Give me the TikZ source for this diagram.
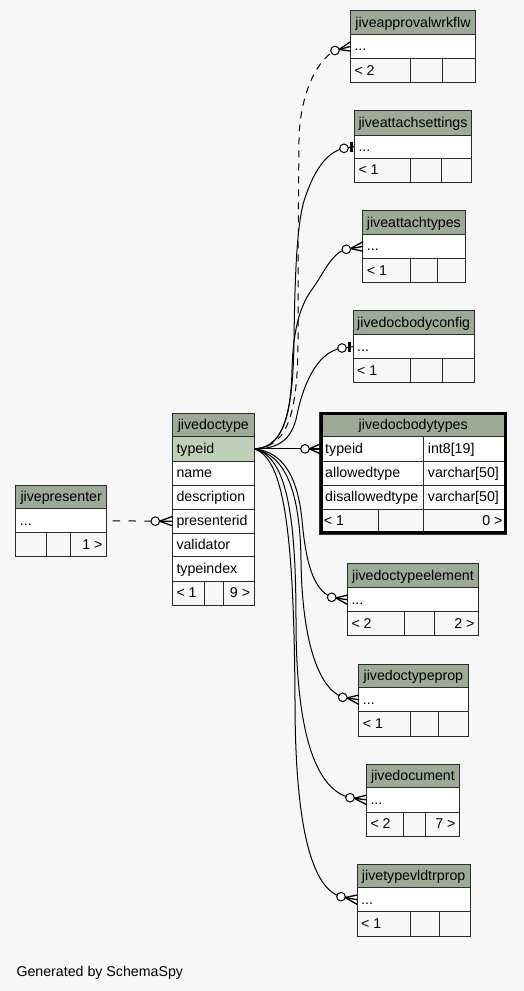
\documentclass[tikz,border=0pt]{standalone}
\usepackage{fontspec}
\setmainfont{Liberation Sans}
\usetikzlibrary{fit,calc}
\definecolor{hdrc}{HTML}{9BAB96}
\definecolor{pkc}{HTML}{BED1B8}
\definecolor{bgc}{HTML}{F7F7F7}
\definecolor{bordc}{HTML}{2B2B2B}
\newcommand\tabfont{\fontsize{14.2pt}{17pt}\selectfont}
\tikzset{
 cellbox/.style={draw=bordc, line width=0.9pt, inner sep=0pt, outer sep=0pt},
 celltxt/.style={font=\tabfont, inner sep=0pt, outer sep=0pt, text=black},
 conn/.style={draw=black, line width=1pt},
 crowarm/.style={draw=black, line width=1.3pt, line cap=round},
 dashln/.style={dash pattern=on 7pt off 6pt},
}
\newcommand\tbox[6]{\node[cellbox, fill=#6, fit={(#2,#3)(#4,#5)}] (#1) {};}
\newcommand\ltext[4]{\node[celltxt, anchor=base west] (#1) at (#2+4.2,#3+16.5) {#4};}
\newcommand\rtext[4]{\node[celltxt, anchor=base east] (#1) at (#2-4.2,#3+16.5) {#4};}
\newcommand\ctext[5]{\node[celltxt, anchor=base] (#1) at ({(#2+#3)/2},#4+16.5) {#5};}
% prefix, title, L, R, y0, y1, y2, y3
\newcommand\stdtable[8]{%
 \tbox{#1-h}{#3}{#5}{#4}{#6}{hdrc}
 \ctext{#1-ht}{#3}{#4}{#5}{#2}
 \tbox{#1-r}{#3}{#6}{#4}{#7}{white}
 \ltext{#1-rt}{#3}{#6}{...}
}
% prefix, L, d1, d2, R, ytop, ybot, left text, right text
\newcommand\stdfoot[9]{%
 \tbox{#1-f1}{#2}{#6}{#3}{#7}{bgc}
 \tbox{#1-f2}{#3}{#6}{#4}{#7}{bgc}
 \tbox{#1-f3}{#4}{#6}{#5}{#7}{bgc}
 \ltext{#1-fl}{#2}{#6}{#8}
 \rtext{#1-fr}{#5}{#6}{#9}
}
\newcommand\crowmark[2]{%
  \draw[crowarm] (#1) -- (#2);
  \draw[crowarm] ($(#1)!4.2pt!(#2)$) -- ($(#2)+(0,-4.6)$);
  \draw[crowarm] ($(#1)!4.2pt!(#2)$) -- ($(#2)+(0,4.6)$);
  \draw[conn, fill=white] (#1) circle[radius=4.3pt];
}
\newcommand\barmark[2]{%
  \draw[conn] (#1) -- (#2);
  \draw[black, line width=3pt] ($(#2)+(-3.2,-5)$) -- ($(#2)+(-3.2,5)$);
  \draw[conn, fill=white] (#1) circle[radius=4.3pt];
}
\begin{document}
\begin{tikzpicture}[x=1pt,y=-1pt]
\fill[bgc] (0,0) rectangle (524,991);
\useasboundingbox (0,0) rectangle (524,991);

% small tables
\stdtable{appr}{jiveapprovalwrkflw}{350.3}{475.7}{10.7}{34.3}{58.7}{82.3}
\stdfoot{appr}{350.3}{410.3}{442.3}{475.7}{58.7}{82.3}{< 2}{}
\stdtable{atts}{jiveattachsettings}{354.3}{471.7}{110.7}{135}{158.3}{182.3}
\stdfoot{atts}{354.3}{410.3}{441}{471.7}{158.3}{182.3}{< 1}{}
\stdtable{attt}{jiveattachtypes}{362.7}{465}{210.7}{234.3}{258.7}{282.3}
\stdfoot{attt}{362.7}{410.3}{437.3}{465}{258.7}{282.3}{< 1}{}
\stdtable{dbc}{jivedocbodyconfig}{353}{474.3}{310.7}{334.7}{358.7}{382.3}
\stdfoot{dbc}{353}{410.3}{442.7}{474.3}{358.7}{382.3}{< 1}{}
\stdtable{dte}{jivedoctypeelement}{347.3}{478.7}{563.7}{587.7}{611.7}{635.7}
\stdfoot{dte}{347.3}{404}{434.7}{478.7}{611.7}{635.7}{< 2}{2 >}
\stdtable{dtp}{jivedoctypeprop}{358.7}{468}{664}{687.7}{711.7}{736}
\stdfoot{dtp}{358.7}{410.3}{438.7}{468}{711.7}{736}{< 1}{}
\stdtable{doc}{jivedocument}{366.3}{459.7}{764}{787.7}{812}{836}
\stdfoot{doc}{366.3}{403.7}{425}{459.7}{812}{836}{< 2}{7 >}
\stdtable{tvp}{jivetypevldtrprop}{357}{470.3}{864}{887.7}{911.7}{936}
\stdfoot{tvp}{357}{410.3}{439.7}{470.3}{911.7}{936}{< 1}{}
\stdtable{pres}{jivepresenter}{15.7}{106.7}{485}{508.7}{532.7}{556.7}
\stdfoot{pres}{15.7}{46.3}{70.7}{106.7}{532.7}{556.7}{}{1 >}

% jivedoctype
\tbox{jdt-h}{172.3}{413.3}{254.3}{436.7}{hdrc}
\ctext{jdt-ht}{172.3}{254.3}{413.3}{jivedoctype}
\tbox{jdt-r1}{172.3}{436.7}{254.3}{461}{pkc}
\ltext{jdt-t1}{172.3}{436.7}{typeid}
\tbox{jdt-r2}{172.3}{461}{254.3}{485}{white}
\ltext{jdt-t2}{172.3}{461}{name}
\tbox{jdt-r3}{172.3}{485}{254.3}{509}{white}
\ltext{jdt-t3}{172.3}{485}{description}
\tbox{jdt-r4}{172.3}{509}{254.3}{533.3}{white}
\ltext{jdt-t4}{172.3}{509}{presenterid}
\tbox{jdt-r5}{172.3}{533.3}{254.3}{556.7}{white}
\ltext{jdt-t5}{172.3}{533.3}{validator}
\tbox{jdt-r6}{172.3}{556.7}{254.3}{581}{white}
\ltext{jdt-t6}{172.3}{556.7}{typeindex}
\stdfoot{jdt}{172.3}{204.7}{223}{254.3}{581}{605}{< 1}{9 >}

% jivedocbodytypes
\tbox{dbt-h}{319.7}{412}{506.7}{436.7}{hdrc}
\ctext{dbt-ht}{319.7}{506.7}{413}{jivedocbodytypes}
\tbox{dbt-r1}{319.7}{436.7}{423.7}{461}{white}
\tbox{dbt-s1}{423.7}{436.7}{506.7}{461}{white}
\tbox{dbt-r2}{319.7}{461}{423.7}{485}{white}
\tbox{dbt-s2}{423.7}{461}{506.7}{485}{white}
\tbox{dbt-r3}{319.7}{485}{423.7}{509}{white}
\tbox{dbt-s3}{423.7}{485}{506.7}{509}{white}
\ltext{dbt-t1}{321}{436.7}{typeid}
\ltext{dbt-u1}{423.7}{436.7}{int8[19]}
\ltext{dbt-t2}{321}{461}{allowedtype}
\ltext{dbt-u2}{423.7}{461}{varchar[50]}
\ltext{dbt-t3}{321}{485}{disallowedtype}
\ltext{dbt-u3}{423.7}{485}{varchar[50]}
\stdfoot{dbt}{319.7}{378.3}{423.7}{506.7}{509}{534.3}{< 1}{0 >}
\node[draw=black, line width=3pt, inner sep=0pt, outer sep=0pt, fit={(321.2,413.5)(505.2,532.8)}] (dbt-frame) {};

% circle positions
\coordinate (cA) at (335,50.5);
\coordinate (cB) at (344,148.3);
\coordinate (cC) at (346.3,249.3);
\coordinate (cD) at (342,348);
\coordinate (cE) at (305,448.85);
\coordinate (cF) at (331.7,597.3);
\coordinate (cG) at (342.7,697.3);
\coordinate (cH) at (350,797.7);
\coordinate (cI) at (341,896.7);
\coordinate (cP) at (155.3,521.2);

% connectors
\draw[conn, dashln] (jdt-r1.east) .. controls (283,447) and (298,425) .. (298,340) .. controls (298,260) and (298.5,190) .. (299,140) .. controls (299.5,100) and (314,62) .. (cA);
\draw[conn] (jdt-r1.east) .. controls (280,448) and (293,425) .. (294,340) .. controls (295,260) and (298,215) .. (306,195) .. controls (314,172) and (326,152) .. (cB);
\draw[conn] (jdt-r1.east) .. controls (278,448) and (291,425) .. (292,370) .. controls (293,330) and (300,305) .. (313,288) .. controls (322,276) and (332,252) .. (cC);
\draw[conn] (jdt-r1.east) .. controls (278,449) and (292,440) .. (297,415) .. controls (302,390) and (315,352) .. (cD);
\draw[conn] (jdt-r1.east) -- (cE);
\draw[conn] (jdt-r1.east) .. controls (285,452) and (298,480) .. (302,520) .. controls (306,565) and (314,590) .. (cF);
\draw[conn] (jdt-r1.east) .. controls (285,455) and (300,490) .. (301,560) .. controls (302,640) and (318,688) .. (cG);
\draw[conn] (jdt-r1.east) .. controls (283,456) and (296,500) .. (296,620) .. controls (296,740) and (318,790) .. (cH);
\draw[conn] (jdt-r1.east) .. controls (282,458) and (294,520) .. (295,700) .. controls (295,820) and (310,888) .. (cI);
\draw[conn, dash pattern=on 7.5pt off 8.3pt, dash phase=9.8pt] (pres-r.east) -- (cP);

% markers
\crowmark{cA}{appr-r.west}
\barmark{cB}{atts-r.west}
\crowmark{cC}{attt-r.west}
\barmark{cD}{dbc-r.west}
\crowmark{cE}{dbt-r1.west}
\crowmark{cF}{dte-r.west}
\crowmark{cG}{dtp-r.west}
\crowmark{cH}{doc-r.west}
\crowmark{cI}{tvp-r.west}
\crowmark{cP}{jdt-r4.west}

\node[celltxt, anchor=base west] (gen) at (16.5,976.5) {Generated by SchemaSpy};
\end{tikzpicture}
\end{document}
